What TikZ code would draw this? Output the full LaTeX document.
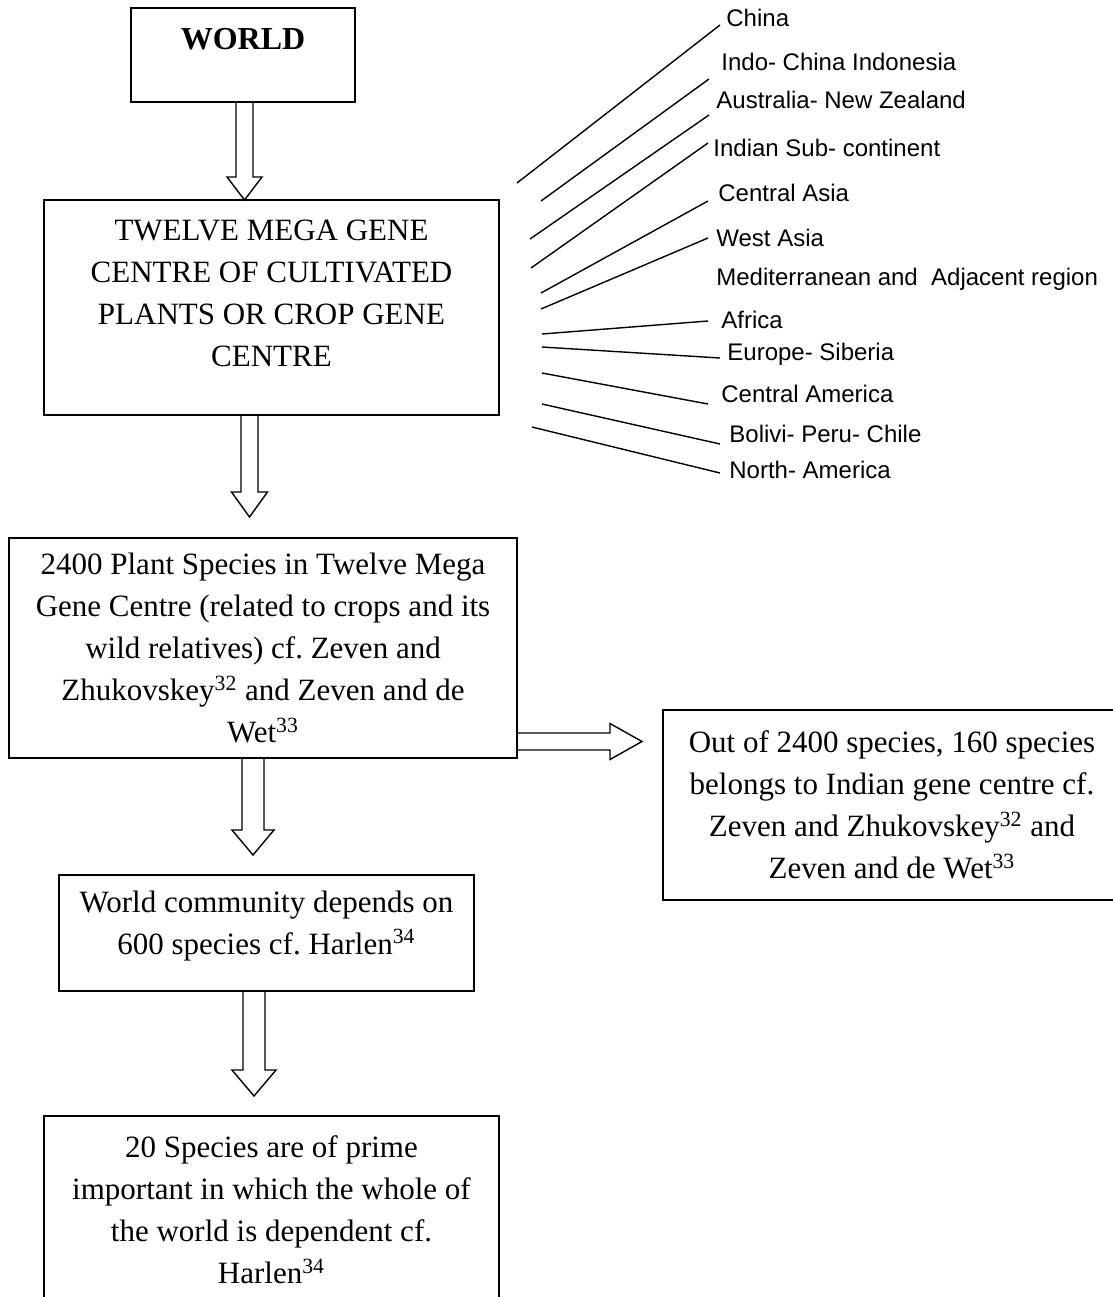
\documentclass[tikz,border=0pt]{standalone}
\usepackage{fontspec}
\setmainfont{Liberation Serif}
\newfontfamily\regionfont{Liberation Sans}
\usetikzlibrary{calc}
\frenchspacing

% hollow block arrow pointing down: from node, tip, shaft half, head half, head length
\newcommand{\hollowdown}[5]{%
  \draw[hollow] ($(#1.south -| #2)+(-#3,0)$) -- ($(#2)+(-#3,-#5)$) -- ($(#2)+(-#4,-#5)$) -- (#2)
    -- ($(#2)+(#4,-#5)$) -- ($(#2)+(#3,-#5)$) -- ($(#1.south -| #2)+(#3,0)$);}

\begin{document}
\begin{tikzpicture}[x=0.5pt,y=-0.5pt,font=\fontsize{15.5}{21}\selectfont,
 cbox/.style={draw,line width=1pt,align=center,inner sep=0pt},
 hollow/.style={draw,line width=0.7pt,fill=white,line join=miter},
 region/.style={font=\regionfont\fontsize{12}{14}\selectfont,anchor=west,inner sep=0pt,text height=8.6pt,text depth=0pt}]
\useasboundingbox (0,0) rectangle (1113,1297);
\node[cbox,font=\bfseries\fontsize{16}{21}\selectfont,minimum width=112pt,minimum height=47pt] (world) at (243,55) {WORLD\\[-5pt]\mbox{}};
\node[cbox,minimum width=227.5pt,minimum height=107.5pt] (gene) at (271.5,307.5) {TWELVE MEGA GENE\\CENTRE OF CULTIVATED\\PLANTS OR CROP GENE\\CENTRE\\[-7pt]\mbox{}};
\node[cbox,minimum width=254pt,minimum height=110pt] (plants) at (263,648) {2400 Plant Species in Twelve Mega\\Gene Centre (related to crops and its\\wild relatives) cf. Zeven and\\Zhukovskey\textsuperscript{32} and Zeven and de\\Wet\textsuperscript{33}};
\node[cbox,minimum width=229pt,minimum height=95pt] (india) at (892,805) {Out of 2400 species, 160 species\\belongs to Indian gene centre cf.\\Zeven and Zhukovskey\textsuperscript{32} and\\Zeven and de Wet\textsuperscript{33}};
\node[cbox,minimum width=207.5pt,minimum height=58pt] (community) at (266.5,933) {World community depends on\\600 species cf. Harlen\textsuperscript{34}\\[-10.6pt]\mbox{}};
\node[cbox,minimum width=227.5pt,minimum height=94pt] (prime) at (271.5,1210) {20 Species are of prime\\important in which the whole of\\the world is dependent cf.\\Harlen\textsuperscript{34}};
% arrow tips
\coordinate (t1) at (244.5,200);
\coordinate (t2) at (249.5,517);
\coordinate (t3) at (253,855);
\coordinate (t4) at (254,1096);
\coordinate (t5) at (642,741.5);
\hollowdown{world}{t1}{8.5}{17.5}{23}
\hollowdown{gene}{t2}{8.5}{18}{25}
\hollowdown{plants}{t3}{11}{21}{25}
\hollowdown{community}{t4}{11}{22}{26}
\draw[hollow] ($(plants.east |- t5)+(0,-8.5)$) -- ($(t5)+(-32,-8.5)$) -- ($(t5)+(-32,-18)$) -- (t5)
  -- ($(t5)+(-32,18)$) -- ($(t5)+(-32,8.5)$) -- ($(plants.east |- t5)+(0,8.5)$);
% gene centres
\foreach \n/\sx/\sy/\ex/\ey/\tx/\ty/\txt in {1/517/183/720/25/726/18/China,
  2/541/201/709/79/721/62/Indo- China Indonesia,
  3/530/239/709/115/716/100/Australia- New Zealand,
  4/531/268/708/143/713/148/Indian Sub- continent,
  5/541/293/708/201/718/193/Central Asia,
  6/541/309/708/238/716/238/West Asia,
  8/542/334/708/321/721/320/Africa,
  9/542/347/720/358/727/352/Europe- Siberia,
  10/542/373/708/404/721/394/Central America,
  11/542/404/720/444/729/434/Bolivi- Peru- Chile,
  12/532/427/720/473/729/470/North- America}{
  \node[region] (r\n) at (\tx,\ty) {\txt};
  \coordinate (s\n) at (\sx,\sy);
  \coordinate (e\n) at (\ex,\ey);
  \draw[line width=0.7pt] (s\n) -- (e\n);}
\node[region] (r7) at (716,277) {Mediterranean and\ \ Adjacent region};
\end{tikzpicture}
\end{document}
